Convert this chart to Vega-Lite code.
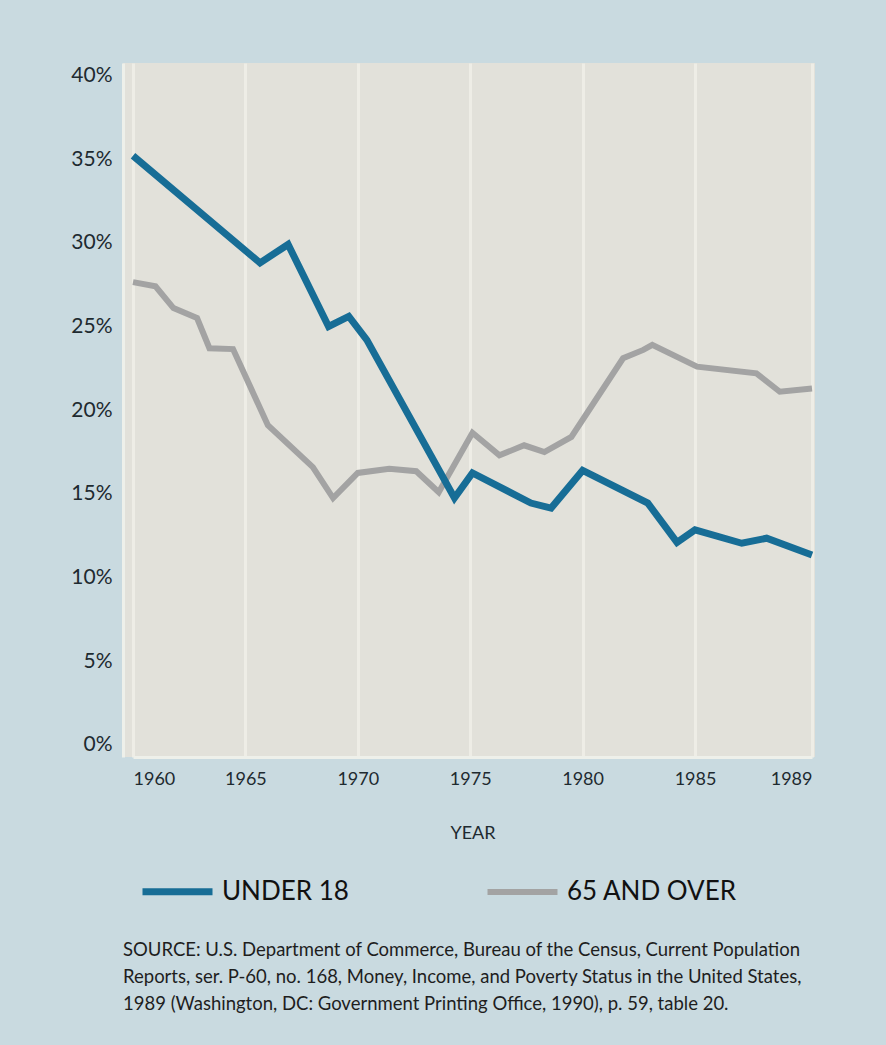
{
  "$schema": "https://vega.github.io/schema/vega-lite/v6.json",
  "width": 692,
  "height": 694,
  "autosize": {"type": "none"},
  "padding": {"left": 123, "top": 63, "right": 71, "bottom": 288},
  "background": "#c9dae0",
  "view": {"fill": "#e2e1da", "stroke": null},
  "title": {
    "text": [
      "SOURCE: U.S. Department of Commerce, Bureau of the Census, Current Population",
      "Reports, ser. P-60, no. 168, Money, Income, and Poverty Status in the United States,",
      "1989 (Washington, DC: Government Printing Office, 1990), p. 59, table 20."
    ],
    "orient": "bottom",
    "anchor": "start",
    "frame": "group",
    "offset": 35,
    "font": "Lato",
    "fontSize": 18.5,
    "fontWeight": "normal",
    "color": "#1e1e1e",
    "lineHeight": 27
  },
  "data": {
    "values": [
      {"series": "65 AND OVER", "year": 1960, "pct": 27.65},
      {"series": "65 AND OVER", "year": 1961, "pct": 27.4},
      {"series": "65 AND OVER", "year": 1961.8, "pct": 26.1},
      {"series": "65 AND OVER", "year": 1962.85, "pct": 25.5},
      {"series": "65 AND OVER", "year": 1963.4, "pct": 23.7},
      {"series": "65 AND OVER", "year": 1964.45, "pct": 23.65},
      {"series": "65 AND OVER", "year": 1966, "pct": 19.1},
      {"series": "65 AND OVER", "year": 1968, "pct": 16.6},
      {"series": "65 AND OVER", "year": 1968.9, "pct": 14.75},
      {"series": "65 AND OVER", "year": 1970, "pct": 16.25},
      {"series": "65 AND OVER", "year": 1971.4, "pct": 16.5},
      {"series": "65 AND OVER", "year": 1972.6, "pct": 16.35},
      {"series": "65 AND OVER", "year": 1973.6, "pct": 15.1},
      {"series": "65 AND OVER", "year": 1975.1, "pct": 18.65},
      {"series": "65 AND OVER", "year": 1976.3, "pct": 17.3},
      {"series": "65 AND OVER", "year": 1977.4, "pct": 17.9},
      {"series": "65 AND OVER", "year": 1978.3, "pct": 17.5},
      {"series": "65 AND OVER", "year": 1979.5, "pct": 18.4},
      {"series": "65 AND OVER", "year": 1981.8, "pct": 23.1},
      {"series": "65 AND OVER", "year": 1982.7, "pct": 23.6},
      {"series": "65 AND OVER", "year": 1983.1, "pct": 23.9},
      {"series": "65 AND OVER", "year": 1985.07, "pct": 22.6},
      {"series": "65 AND OVER", "year": 1987.1, "pct": 22.2},
      {"series": "65 AND OVER", "year": 1987.9, "pct": 21.1},
      {"series": "65 AND OVER", "year": 1989, "pct": 21.3},
      {"series": "UNDER 18", "year": 1960, "pct": 35.2},
      {"series": "UNDER 18", "year": 1965.65, "pct": 28.8},
      {"series": "UNDER 18", "year": 1966.9, "pct": 29.9},
      {"series": "UNDER 18", "year": 1968.7, "pct": 25.0},
      {"series": "UNDER 18", "year": 1969.6, "pct": 25.6},
      {"series": "UNDER 18", "year": 1970.4, "pct": 24.2},
      {"series": "UNDER 18", "year": 1974.3, "pct": 14.75},
      {"series": "UNDER 18", "year": 1975.1, "pct": 16.25},
      {"series": "UNDER 18", "year": 1977.7, "pct": 14.45},
      {"series": "UNDER 18", "year": 1978.6, "pct": 14.15},
      {"series": "UNDER 18", "year": 1980, "pct": 16.4},
      {"series": "UNDER 18", "year": 1982.9, "pct": 14.45},
      {"series": "UNDER 18", "year": 1984.2, "pct": 12.1},
      {"series": "UNDER 18", "year": 1985, "pct": 12.85},
      {"series": "UNDER 18", "year": 1986.6, "pct": 12.05},
      {"series": "UNDER 18", "year": 1987.45, "pct": 12.35},
      {"series": "UNDER 18", "year": 1989, "pct": 11.35}
    ]
  },
  "mark": {"type": "line", "strokeJoin": "miter", "strokeCap": "butt"},
  "encoding": {
    "x": {
      "field": "year",
      "type": "quantitative",
      "scale": {"domain": [1960, 1985, 1989], "range": [10, 572, 689], "zero": false, "nice": false},
      "axis": {
        "title": "YEAR",
        "values": [1960, 1965, 1970, 1975, 1980, 1985, 1989],
        "format": "d",
        "labelFont": "Lato",
        "labelFontSize": 18,
        "labelColor": "#1e2a30",
        "labelPadding": 13,
        "ticks": false,
        "tickSize": 0,
        "domain": true,
        "domainColor": "#eef0ea",
        "domainWidth": 3,
        "grid": true,
        "gridColor": "#eeede6",
        "gridWidth": 3,
        "titleFont": "Lato",
        "titleFontSize": 18,
        "titleFontWeight": "normal",
        "titleColor": "#1e2a30",
        "titlePadding": 36
      }
    },
    "y": {
      "field": "pct",
      "type": "quantitative",
      "scale": {"domain": [-0.72, 40.74], "zero": false, "nice": false},
      "axis": {
        "title": null,
        "values": [0, 5, 10, 15, 20, 25, 30, 35, 40],
        "labelExpr": "datum.value + '%'",
        "labelFont": "Lato",
        "labelFontSize": 21,
        "labelColor": "#1e2a30",
        "labelPadding": 11,
        "ticks": false,
        "tickSize": 0,
        "domain": true,
        "domainColor": "#eef0ea",
        "domainWidth": 3,
        "grid": false
      }
    },
    "color": {
      "field": "series",
      "type": "nominal",
      "scale": {"domain": ["UNDER 18", "65 AND OVER"], "range": ["#176d96", "#a3a3a3"]},
      "legend": {
        "title": null,
        "orient": "none",
        "legendX": 16,
        "legendY": 790,
        "direction": "horizontal",
        "columns": 2,
        "columnPadding": 126,
        "padding": 0,
        "symbolType": "stroke",
        "symbolSize": 4900,
        "symbolStrokeWidth": 7,
        "labelFont": "Lato",
        "labelFontSize": 26,
        "labelColor": "#111111",
        "labelOffset": 6,
        "labelLimit": 400
      }
    },
    "strokeWidth": {
      "field": "series",
      "type": "ordinal",
      "scale": {"domain": ["UNDER 18", "65 AND OVER"], "range": [7, 6]},
      "legend": null
    },
    "order": {"field": "year", "type": "quantitative"}
  }
}
